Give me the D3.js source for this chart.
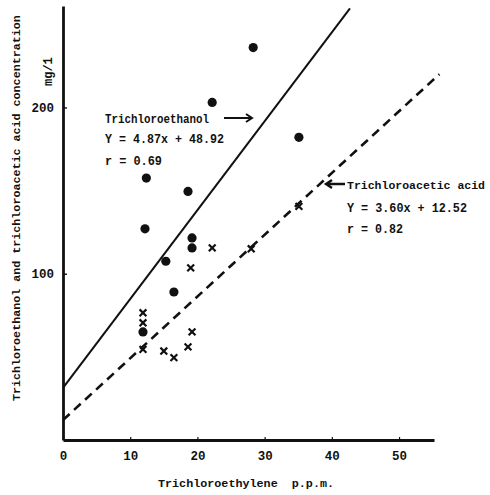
<!DOCTYPE html>
<html><head><meta charset="utf-8">
<script src="https://cdn.jsdelivr.net/npm/d3@7"></script>
<style>
body{margin:0;background:#fff;}
text{font-family:"Liberation Mono","DejaVu Sans Mono",monospace;font-weight:bold;fill:#111;white-space:pre;}
</style></head>
<body><svg id="c" width="490" height="495"></svg>
<script>
// Trichloroethanol (dots)
const tceX = [28.3, 22.2, 35.1, 12.4, 18.6, 12.2, 19.2, 19.2, 15.3, 16.5, 11.9];
const tceY = [236, 203, 182, 157.5, 149.5, 127, 121.5, 115.5, 107.5, 89, 65];
// Trichloroacetic acid (crosses)
const tcaX = [22.2, 19.0, 28.0, 35.1, 11.9, 11.9, 11.9, 15.0, 16.5, 18.6, 19.2];
const tcaY = [115.5, 103.5, 115, 140.5, 76.5, 70.5, 54.5, 53.5, 49.5, 56, 65];
// regression lines as drawn [x, y] endpoints
const tceLine = [[0, 31.3], [42.7, 259.6]];
const tcaLine = [[0, 12], [56, 220]];
const xTicks = [0, 10, 20, 30, 40, 50];
const yTicks = [100, 200];
const xDomain = [0, 55.2];
const yDomain = [0, 261];

const svg = d3.select("#c");
const x = d3.scaleLinear().domain(xDomain).range([63, 434]);
const y = d3.scaleLinear().domain(yDomain).range([440, 6]);

function styleText(sel) {
  sel.attr("font-size", 12.5).attr("font-family", "Liberation Mono").attr("font-weight", "bold").attr("fill", "#111");
}
// axes
const xAxis = svg.append("g").attr("transform", "translate(0,440)")
  .call(d3.axisBottom(x).tickValues(xTicks).tickSize(-3).tickSizeOuter(0).tickPadding(11));
xAxis.select(".domain").attr("stroke", "#111").attr("stroke-width", 2.8);
xAxis.selectAll(".tick line").attr("stroke", "#111").attr("stroke-width", 1.2);
styleText(xAxis.selectAll("text"));

const yAxis = svg.append("g").attr("transform", "translate(63,0)")
  .call(d3.axisLeft(y).tickValues(yTicks).tickSize(-4).tickSizeOuter(0).tickPadding(9));
yAxis.select(".domain").attr("stroke", "#111").attr("stroke-width", 2.8);
yAxis.selectAll(".tick line").attr("stroke", "#111").attr("stroke-width", 1.4);
styleText(yAxis.selectAll("text"));

// lines
const line = d3.line().x(d => x(d[0])).y(d => y(d[1]));
svg.append("path").datum(tceLine).attr("d", line).attr("stroke", "#111").attr("stroke-width", 2).attr("fill", "none");
svg.append("path").datum(tcaLine).attr("d", line).attr("stroke", "#111").attr("stroke-width", 2.6)
  .attr("stroke-dasharray", "9,6").attr("fill", "none");

// dots
svg.append("g").selectAll("circle").data(tceX.map((v, i) => [v, tceY[i]])).join("circle")
  .attr("cx", d => x(d[0])).attr("cy", d => y(d[1])).attr("r", 4.6).attr("fill", "#111");

// crosses
svg.append("g").selectAll("path").data(tcaX.map((v, i) => [v, tcaY[i]])).join("path")
  .attr("d", d => { const cx = x(d[0]), cy = y(d[1]), s = 3.4;
    return `M${cx - s},${cy - s}L${cx + s},${cy + s}M${cx + s},${cy - s}L${cx - s},${cy + s}`; })
  .attr("stroke", "#111").attr("stroke-width", 2.2).attr("fill", "none");

// helper for fitted text
function txt(g, x0, y0, s, len, fs) {
  return g.append("text").attr("x", x0).attr("y", y0).attr("font-size", fs || 13)
    .attr("textLength", len).attr("lengthAdjust", "spacingAndGlyphs").text(s);
}

// titles
txt(svg, 158, 487, "Trichloroethylene  p.p.m.", 176, 11.8);
svg.append("text").attr("transform", "translate(20,401) rotate(-90)").attr("font-size", 11.7)
  .text("Trichloroethanol and trichloroacetic acid concentration");
svg.append("text").attr("transform", "translate(52,86) rotate(-90)").attr("font-size", 12)
  .text("mg/1");

// annotations
const ann1 = svg.append("g");
txt(ann1, 105, 122.5, "Trichloroethanol", 104, 12.5);
txt(ann1, 105, 142.5, "Y = 4.87x + 48.92", 119, 12.5);
txt(ann1, 105, 164.5, "r = 0.69", 57, 12.5);
ann1.append("path").attr("d", "M224,118L252,118M246,114L252,118L246,122").attr("stroke", "#111").attr("stroke-width", 2).attr("fill", "none");

const ann2 = svg.append("g");
svg.append("text").attr("x", 347).attr("y", 188.5).attr("font-size", 11.5).text("Trichloroacetic acid");
txt(ann2, 347, 211.5, "Y = 3.60x + 12.52", 120, 12.5);
txt(ann2, 347, 232.5, "r = 0.82", 56, 12.5);
ann2.append("path").attr("d", "M345,184L326,184M332,180L326,184L332,188").attr("stroke", "#111").attr("stroke-width", 2.4).attr("fill", "none");
</script></body></html>
